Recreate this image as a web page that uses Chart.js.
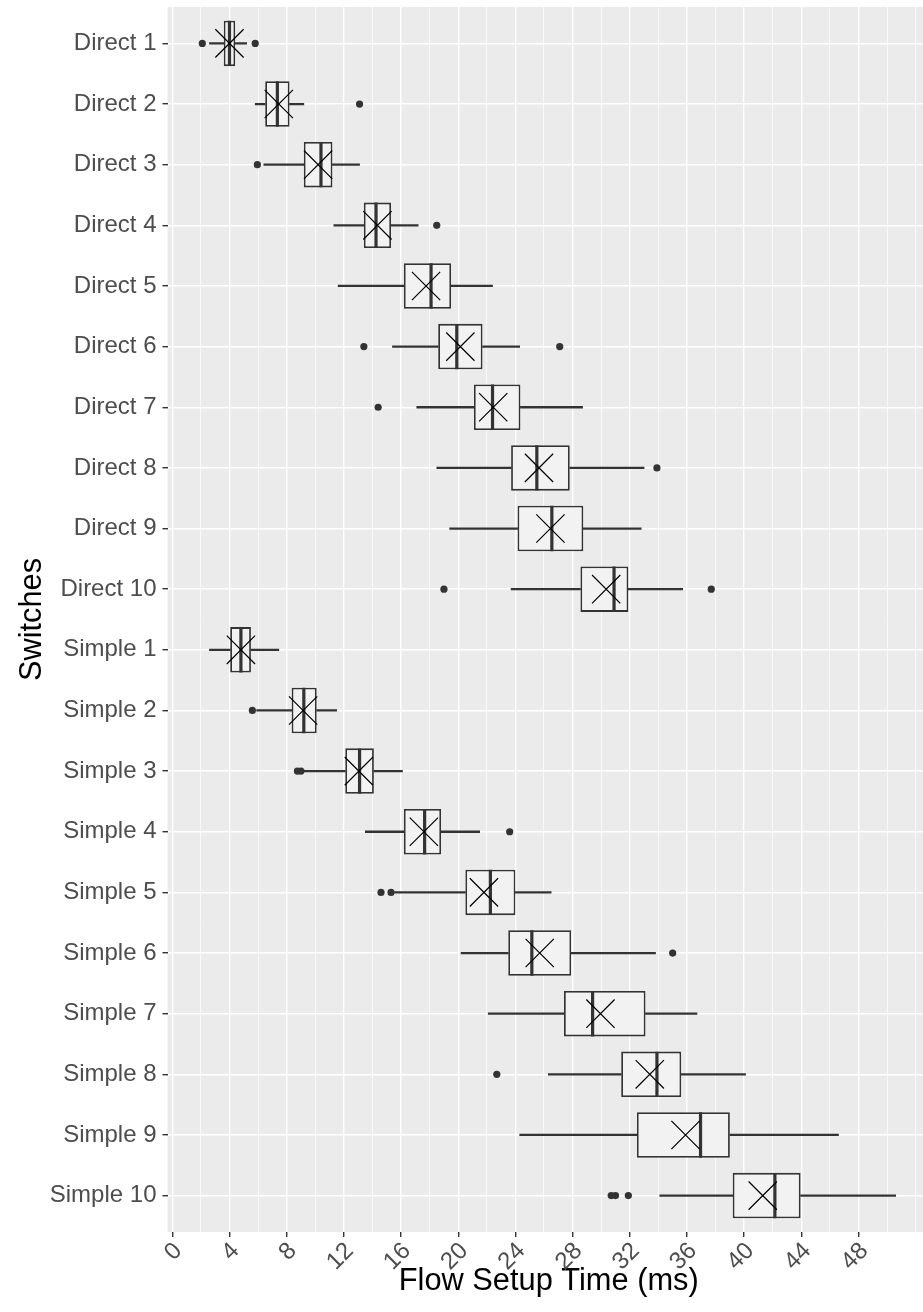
<!DOCTYPE html>
<html>
<head>
<meta charset="utf-8">
<script src="https://cdn.jsdelivr.net/npm/chart.js@4/dist/chart.umd.min.js"></script>
<style>
  html, body { margin: 0; padding: 0; overflow: hidden; background: #ffffff; }
  canvas { display: block; }
</style>
</head>
<body>
<canvas id="chart" width="930" height="1312"></canvas>
<script>
// Flow setup time per switch count, summarised as box plots (ms)
const categories = [
  'Direct 1', 'Direct 2', 'Direct 3', 'Direct 4', 'Direct 5',
  'Direct 6', 'Direct 7', 'Direct 8', 'Direct 9', 'Direct 10',
  'Simple 1', 'Simple 2', 'Simple 3', 'Simple 4', 'Simple 5',
  'Simple 6', 'Simple 7', 'Simple 8', 'Simple 9', 'Simple 10'
];
const whiskerLow  = [2.6, 5.8, 6.4, 11.3, 11.6, 15.4, 17.1, 18.5, 19.4, 23.7,
                     2.6, 5.9, 9.15, 13.5, 15.55, 20.2, 22.1, 26.3, 24.3, 34.1];
const quartile1   = [3.6, 6.5, 9.2, 13.4, 16.2, 18.6, 21.1, 23.7, 24.15, 28.55,
                     4.05, 8.35, 12.1, 16.2, 20.5, 23.5, 27.4, 31.4, 32.5, 39.2];
const medians     = [4.0, 7.35, 10.4, 14.25, 18.1, 19.9, 22.4, 25.5, 26.55, 30.9,
                     4.8, 9.2, 13.1, 17.65, 22.25, 25.15, 29.4, 33.9, 36.95, 42.15];
const quartile3   = [4.4, 8.2, 11.2, 15.3, 19.5, 21.7, 24.35, 27.8, 28.75, 31.9,
                     5.5, 10.1, 14.1, 18.8, 24.0, 27.9, 33.1, 35.6, 39.0, 43.95];
const whiskerHigh = [5.2, 9.2, 13.1, 17.2, 22.4, 24.3, 28.7, 33.0, 32.8, 35.7,
                     7.45, 11.5, 16.1, 21.5, 26.5, 33.8, 36.7, 40.1, 46.6, 50.6];
const means       = [4.0, 7.45, 10.2, 14.35, 17.75, 20.15, 22.45, 25.65, 26.45, 30.35,
                     4.8, 9.15, 13.05, 17.6, 21.8, 25.7, 29.95, 33.4, 35.9, 41.3];
const outliers    = [[2.1, 5.8], [13.1], [5.95], [18.5], [], [13.4, 27.1], [14.4], [33.9], [], [19.0, 37.7],
                     [], [5.6], [8.75, 9.0], [23.6], [14.6, 15.3], [35.0], [], [22.7], [], [30.7, 31.0, 31.9]];

const xTickValues = [0, 4, 8, 12, 16, 20, 24, 28, 32, 36, 40, 44, 48];
const xGridValues = [0, 2, 4, 6, 8, 10, 12, 14, 16, 18, 20, 22, 24, 26, 28, 30,
                     32, 34, 36, 38, 40, 42, 44, 46, 48, 50, 52];

const FONT = "'Liberation Sans', Arial, Helvetica, sans-serif";
const INK = '#333333';

// category rows are placed at 1..n on a reversed linear axis
const rowOf = i => i + 1;
const lowerWhiskers = categories.map((_, i) => ({ x: [whiskerLow[i], quartile1[i]], y: rowOf(i) }));
const upperWhiskers = categories.map((_, i) => ({ x: [quartile3[i], whiskerHigh[i]], y: rowOf(i) }));
const boxes         = categories.map((_, i) => ({ x: [quartile1[i], quartile3[i]], y: rowOf(i) }));
const medianPoints  = categories.map((_, i) => ({ x: medians[i], y: rowOf(i) }));
const meanPoints    = categories.map((_, i) => ({ x: means[i], y: rowOf(i) }));
const outlierPoints = outliers.flatMap((vals, i) => vals.map(v => ({ x: v, y: rowOf(i) })));

const isMajorX = v => xTickValues.includes(v);

// grey panel behind the grid
const panelBackground = {
  id: 'panelBackground',
  beforeDraw(chart) {
    const { ctx, chartArea: a } = chart;
    ctx.save();
    ctx.fillStyle = '#EBEBEB';
    ctx.fillRect(a.left, a.top, a.right - a.left, a.bottom - a.top);
    ctx.restore();
  }
};

new Chart(document.getElementById('chart'), {
  type: 'bar',
  data: {
    datasets: [
      { type: 'bar', data: lowerWhiskers, backgroundColor: INK, borderWidth: 0,
        barThickness: 1.6, grouped: false, order: 6 },
      { type: 'bar', data: upperWhiskers, backgroundColor: INK, borderWidth: 0,
        barThickness: 1.6, grouped: false, order: 6 },
      { type: 'bar', data: boxes, backgroundColor: '#F2F2F2', borderColor: INK,
        borderWidth: 1.8, borderSkipped: false, barPercentage: 0.75, categoryPercentage: 1,
        grouped: false, order: 5 },
      { type: 'scatter', data: medianPoints, pointStyle: 'line', pointRotation: 90,
        pointRadius: 22.7, pointBorderWidth: 3.2, pointBorderColor: INK, order: 4 },
      { type: 'scatter', data: meanPoints, pointStyle: 'crossRot',
        pointRadius: 20, pointBorderWidth: 1.2, pointBorderColor: '#000000', order: 3 },
      { type: 'scatter', data: outlierPoints, pointStyle: 'circle',
        pointRadius: 3.6, pointBorderWidth: 0, pointBackgroundColor: INK, order: 2 }
    ]
  },
  options: {
    indexAxis: 'y',
    responsive: false,
    animation: false,
    events: [],
    layout: { autoPadding: false, padding: { top: 7, right: 0, bottom: 0, left: 0 } },
    plugins: { legend: { display: false }, tooltip: { enabled: false } },
    scales: {
      x: {
        type: 'linear', position: 'bottom', min: -0.335, max: 53.0,
        afterBuildTicks: s => { s.ticks = xGridValues.map(v => ({ value: v })); },
        afterFit: s => { s.height = 80; s.paddingLeft = 0; s.paddingRight = 0; },
        border: { display: false },
        grid: {
          color: '#FFFFFF',
          lineWidth: c => (c.tick && isMajorX(c.tick.value)) ? 1.4 : 0.7,
          tickColor: c => (c.tick && isMajorX(c.tick.value)) ? INK : 'rgba(0,0,0,0)',
          tickWidth: 1.4,
          tickLength: 5
        },
        ticks: {
          autoSkip: false, minRotation: 45, maxRotation: 45,
          color: '#4D4D4D', font: { size: 24, family: FONT },
          padding: 0, labelOffset: 6,
          callback: v => isMajorX(v) ? String(v) : ''
        },
        title: {
          display: true, text: 'Flow Setup Time (ms)', color: '#000000',
          font: { size: 30.8, family: FONT }, padding: { top: 0, bottom: 12 }
        }
      },
      y: {
        type: 'linear', position: 'left', reverse: true, min: 0.4, max: 20.6, offset: false,
        afterBuildTicks: s => { s.ticks = categories.map((_, i) => ({ value: rowOf(i) })); },
        afterFit: s => { s.width = 167.5; s.paddingTop = 0; s.paddingBottom = 0; },
        border: { display: false },
        grid: { color: '#FFFFFF', lineWidth: 1.4, tickColor: INK, tickWidth: 1.4, tickLength: 5, offset: false },
        ticks: {
          autoSkip: false, color: '#4D4D4D', font: { size: 24, family: FONT }, padding: 6,
          callback: v => categories[Math.round(v) - 1] ?? ''
        },
        title: {
          display: true, text: 'Switches', color: '#000000',
          font: { size: 30.8, family: FONT }, padding: { top: 14, bottom: 0 }
        }
      }
    }
  },
  plugins: [panelBackground]
});
</script>
</body>
</html>
